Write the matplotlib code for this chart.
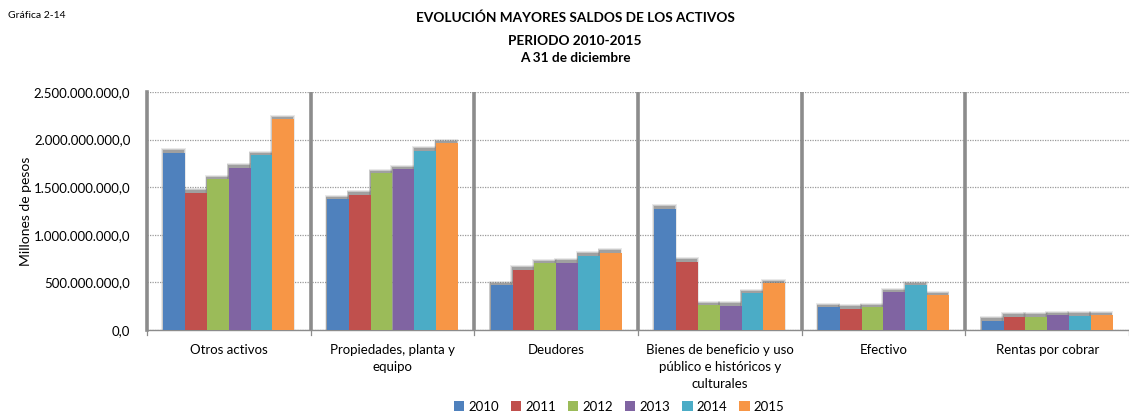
import matplotlib
matplotlib.use("Agg")
import matplotlib.pyplot as plt
import numpy as np
from matplotlib.patches import Patch

plt.rcParams['font.family'] = ['Lato', 'DejaVu Sans']

categories = ["Otros activos", "Propiedades, planta y\nequipo", "Deudores",
              "Bienes de beneficio y uso\npúblico e históricos y\nculturales",
              "Efectivo", "Rentas por cobrar"]
years = ["2010", "2011", "2012", "2013", "2014", "2015"]
# values in millions of pesos
v2010 = [1862e6, 1372e6, 472e6, 1274e6, 241e6, 98e6]
v2011 = [1442e6, 1421e6, 633e6, 717e6, 224e6, 140e6]
v2012 = [1586e6, 1645e6, 700e6, 259e6, 238e6, 140e6]
v2013 = [1704e6, 1690e6, 707e6, 257e6, 396e6, 157e6]
v2014 = [1838e6, 1883e6, 780e6, 389e6, 472e6, 150e6]
v2015 = [2212e6, 1960e6, 812e6, 494e6, 364e6, 157e6]
series = [v2010, v2011, v2012, v2013, v2014, v2015]
colors = ["#4F81BD", "#C0504D", "#9BBB59", "#8064A2", "#4BACC6", "#F79646"]

fig = plt.figure(figsize=(11.29, 4.18), dpi=100)
ax = fig.add_axes([147/1129, 88/418, 982/1129, 238/418])

n = len(years)
group = 0.8
w = group / n
x = np.arange(len(categories))
for i, (vals, c) in enumerate(zip(series, colors)):
    pos = x - group/2 + w*(i + 0.5)
    vals = np.array(vals)
    # soft shadow
    for d, a, ww in [(45e6, 0.15, 1.12), (35e6, 0.25, 1.06), (25e6, 0.45, 1.0)]:
        ax.bar(pos - 0.005, vals + d, width=w*ww, color="#6e6e6e", alpha=a,
               zorder=2, linewidth=0)
    ax.bar(pos, vals, width=w, color=c, zorder=3, linewidth=0, label=years[i])

ax.set_xlim(-0.5, len(categories) - 0.5)
ax.set_ylim(0, 2.5e9)
yt = np.arange(0, 2.5e9 + 1, 5e8)
ax.set_yticks(yt)

def fmt(v):
    s = f"{int(round(v)):,}".replace(",", ".")
    return s + ",0"
ax.set_yticklabels([fmt(v) for v in yt], fontsize=9.5)
ax.tick_params(axis='y', length=0, pad=12)
ax.yaxis.grid(True, linestyle=(0, (1, 1)), color="#9a9a9a", linewidth=0.9, zorder=0)
ax.set_axisbelow(True)

ax.set_xticks(x)
ax.set_xticklabels(categories, fontsize=9.5, linespacing=1.5)
ax.tick_params(axis='x', length=0, pad=10)
for b in np.arange(0.5, len(categories) - 0.5, 1.0):
    ax.axvline(b, color="#8c8c8c", linewidth=2.6, zorder=4)
# small ticks at boundaries
for b in np.arange(-0.5, len(categories) + 0.5, 1.0):
    ax.plot([b, b], [0, -0.02], transform=ax.get_xaxis_transform(),
            color="#8c8c8c", linewidth=0.9, clip_on=False)

for s in ["top", "right"]:
    ax.spines[s].set_visible(False)
ax.spines["left"].set_color("#8c8c8c")
ax.spines["left"].set_linewidth(2.6)
ax.spines["bottom"].set_color("#8c8c8c")
ax.spines["bottom"].set_linewidth(1.0)

ax.set_ylabel("Millones de pesos", fontsize=10, labelpad=8)
ax.yaxis.set_label_coords(-0.117, 0.5)

fig.text(8/1129, 1 - 15/418, "Gráfica 2-14", fontsize=7.5, va="center", ha="left")
fig.text(575/1129, 1 - 18/418, "EVOLUCIÓN MAYORES SALDOS DE LOS ACTIVOS",
         fontsize=9.8, fontweight="bold", ha="center", va="center")
fig.text(575/1129, 1 - 41/418, "PERIODO 2010-2015",
         fontsize=9.8, fontweight="bold", ha="center", va="center")
fig.text(575/1129, 1 - 58/418, "A 31 de diciembre",
         fontsize=9.8, fontweight="bold", ha="center", va="center")

handles = [Patch(facecolor=c, edgecolor="none") for c in colors]
fig.legend(handles, years, loc="center", bbox_to_anchor=(619/1129, 1 - 407/418),
           ncol=6, frameon=False, fontsize=9.5, handlelength=0.8, handleheight=0.8,
           handletextpad=0.3, columnspacing=0.9, borderaxespad=0)

fig.savefig("out.png", dpi=100)
